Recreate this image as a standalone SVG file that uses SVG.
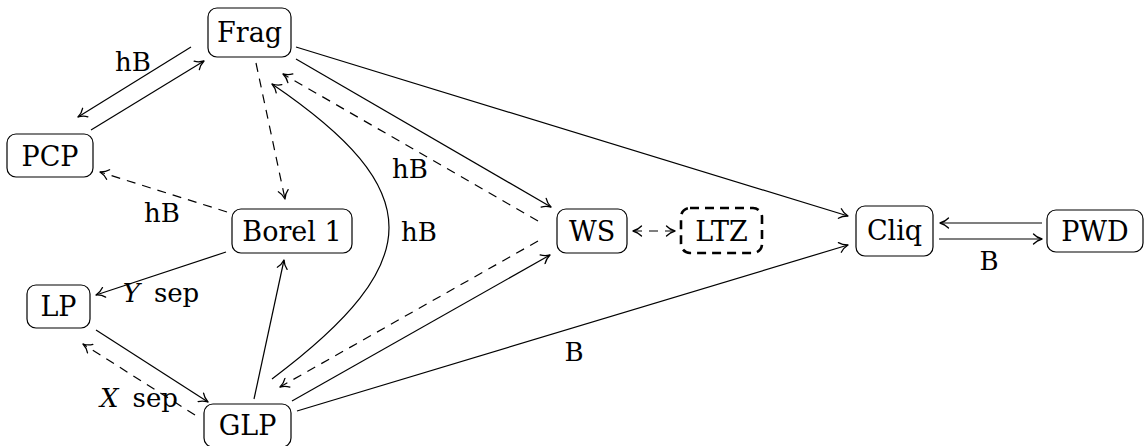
<svg xmlns="http://www.w3.org/2000/svg" width="1144" height="446" viewBox="0 0 1144 446">
<style>
.box{fill:#fff;stroke:#000;stroke-width:1.2}
.dbox{fill:#fff;stroke:#000;stroke-width:2.6;stroke-dasharray:9 6}
.nt{font-family:'DejaVu Serif',serif;font-size:27px;text-anchor:middle;fill:#000}
.lt{font-family:'DejaVu Serif',serif;font-size:26px;text-anchor:middle;fill:#000}
.e{fill:none;stroke:#000;stroke-width:1.2;marker-end:url(#ah)}
.d{stroke-dasharray:9 7}
.ahp{fill:none;stroke:#000;stroke-width:1.3;stroke-dasharray:none;stroke-linecap:round;stroke-linejoin:round}
</style>
<defs>
<marker id="ah" markerUnits="userSpaceOnUse" viewBox="-10 -6 12 12" refX="0" refY="0" markerWidth="12" markerHeight="12" orient="auto-start-reverse">
<path class="ahp" d="M -8.5,-5 C -6,-2.2 -2.5,-0.7 0,0 C -2.5,0.7 -6,2.2 -8.5,5"/>
</marker>
</defs>
<g id="connectors">
<line class="e" x1="191" y1="47" x2="78" y2="117"/>
<line class="e" x1="91" y1="130" x2="204" y2="61"/>
<line class="e d" x1="256" y1="63" x2="285" y2="199"/>
<line class="e d" x1="227" y1="212" x2="100" y2="172"/>
<line class="e" x1="226" y1="252" x2="96" y2="295"/>
<line class="e" x1="96" y1="330" x2="208" y2="402"/>
<line class="e d" x1="195" y1="415" x2="83" y2="344"/>
<line class="e" x1="254" y1="399" x2="284" y2="260"/>
<path class="e" d="M 272,379 C 428,262 428,190 272,84"/>
<line class="e" x1="296" y1="59" x2="551" y2="207"/>
<line class="e d" x1="538" y1="221" x2="283" y2="74"/>
<line class="e" x1="296" y1="47" x2="848" y2="216"/>
<line class="e d" x1="538" y1="241" x2="280" y2="387"/>
<line class="e" x1="292" y1="401" x2="550" y2="255"/>
<line class="e" x1="297" y1="411" x2="848" y2="245"/>
<line class="e d" style="marker-start:url(#ah)" x1="633" y1="231" x2="675" y2="231"/>
<line class="e" x1="1042" y1="223" x2="940" y2="223"/>
<line class="e" x1="939" y1="239" x2="1042" y2="239"/>
<text class="lt" x="133" y="71">hB</text>
<text class="lt" x="162" y="222">hB</text>
<text class="lt" x="161" y="302"><tspan font-style="italic">Y</tspan><tspan dx="14">sep</tspan></text>
<text class="lt" x="139" y="407"><tspan font-style="italic">X</tspan><tspan dx="14">sep</tspan></text>
<text class="lt" x="419" y="241">hB</text>
<text class="lt" x="410" y="178">hB</text>
<text class="lt" x="574" y="361">B</text>
<text class="lt" x="989" y="270">B</text>
</g>
<g id="Frag"><rect class="box" x="208" y="8" width="83" height="49" rx="9"/><text class="nt" x="249.5" y="42">Frag</text></g>
<g id="PCP"><rect class="box" x="7" y="134" width="86" height="43" rx="9"/><text class="nt" x="50" y="166">PCP</text></g>
<g id="Borel1"><rect class="box" x="232" y="209" width="120" height="44" rx="9"/><text class="nt" x="292" y="241">Borel 1</text></g>
<g id="LP"><rect class="box" x="27" y="285" width="63" height="43" rx="9"/><text class="nt" x="58.5" y="316">LP</text></g>
<g id="GLP"><rect class="box" x="204" y="404" width="87" height="43" rx="9"/><text class="nt" x="247.5" y="435">GLP</text></g>
<g id="WS"><rect class="box" x="557" y="209" width="70" height="44" rx="9"/><text class="nt" x="592" y="241">WS</text></g>
<g id="LTZ"><rect class="dbox" x="681" y="208" width="81" height="45" rx="9"/><text class="nt" x="721.5" y="241">LTZ</text></g>
<g id="Cliq"><rect class="box" x="856" y="206" width="77" height="50" rx="9"/><text class="nt" x="894.5" y="240">Cliq</text></g>
<g id="PWD"><rect class="box" x="1047" y="210" width="96" height="42" rx="9"/><text class="nt" x="1095" y="241">PWD</text></g>
</svg>
